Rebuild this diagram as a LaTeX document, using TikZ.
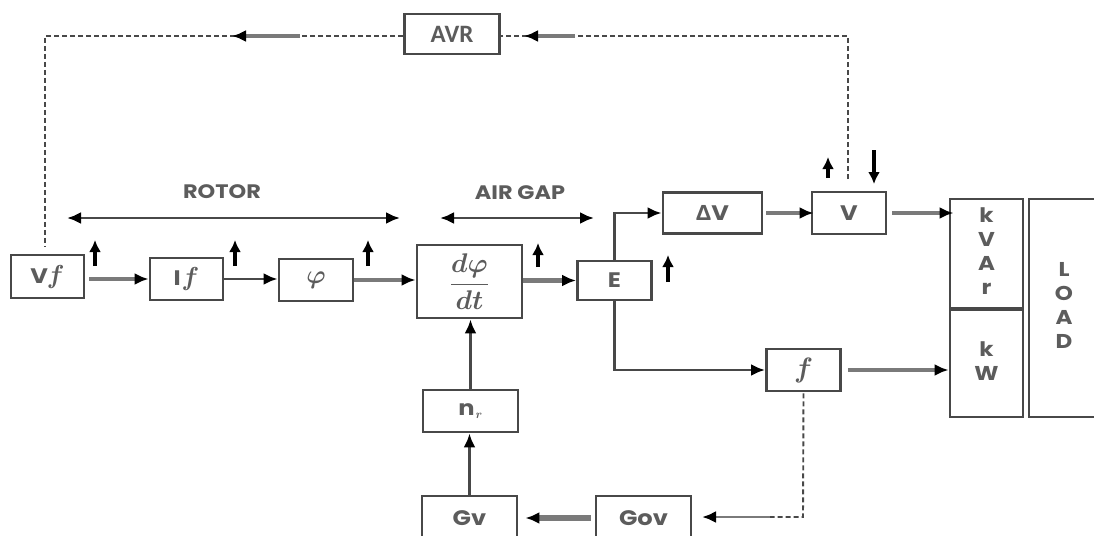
\RequirePackage{fix-cm}
\documentclass[tikz,border=0pt]{standalone}
\usepackage{amsmath}
\usepackage{fontspec}
\setmainfont{Poppins}
\newfontfamily\bx{Poppins}[FakeStretch=1.15]
\newfontfamily\grk{Open Sans}[FakeStretch=1.12]
\newfontfamily\avrfont{Carlito}
\usetikzlibrary{arrows.meta}
\definecolor{boxgray}{HTML}{484848}
\definecolor{txtgray}{HTML}{5C5C5C}
\definecolor{linegray}{HTML}{7A7A7A}
\tikzset{
  box/.style={draw=boxgray, line width=2.8pt, fill=white, inner sep=0pt, text=txtgray, font=\bx\fontsize{21}{25}\selectfont\bfseries},
  thickarr/.style={draw=linegray, line width=4.6pt, -{Latex[length=14pt,width=12pt,black]}},
  thinarr/.style={draw=boxgray, line width=2.8pt, -{Latex[length=14pt,width=12pt,black]}},
  dashline/.style={draw=boxgray, line width=1.9pt, dash pattern=on 5pt off 3pt},
  solidseg/.style={draw=linegray, line width=3.8pt, -{Latex[length=14pt,width=12pt,black]}},
  uparr/.style={draw=black, line width=3.2pt, -{Latex[length=12pt,width=12pt,black]}},
  lbl/.style={text=txtgray, font=\bx\fontsize{19.5}{23}\selectfont\bfseries},
  dblarr/.style={draw=boxgray, line width=2.8pt, {Latex[length=14pt,width=12pt,black]}-{Latex[length=14pt,width=12pt,black]}},
  stackbox/.style={box, font=\bx\fontsize{20}{24}\selectfont\bfseries},
}
\begin{document}
\begin{tikzpicture}[x=1pt,y=-1pt]
\useasboundingbox (0,0) rectangle (1094,535);
\clip (0,0) rectangle (1094,535);
% boxes
\node[box, minimum width=95, minimum height=40, font=\avrfont\fontsize{25}{28}\selectfont\bfseries] (avr) at (452,34) {AVR};
\node[box, minimum width=73, minimum height=43] (vf) at (47.5,276.5) {V\kern-1pt{\fontsize{26}{28}\selectfont$\boldsymbol{f}$}};
\node[box, minimum width=73, minimum height=42] (if) at (186.5,279) {I\kern1pt{\fontsize{26}{28}\selectfont$\boldsymbol{f}$}};
\node[box, minimum width=74, minimum height=42] (phi) at (316,280) {{\fontsize{26}{28}\selectfont$\boldsymbol{\varphi}$}};
\node[box, minimum width=105, minimum height=73, font=\fontsize{27}{30}\selectfont] (dphi) at (469.5,281.5) {$\displaystyle\frac{\boldsymbol{d\varphi}}{\boldsymbol{dt}}$};
\node[box, minimum width=74, minimum height=39] (e) at (614.5,280.5) {E};
\node[box, minimum width=99, minimum height=41] (dv) at (712.5,213) {{\grk\bfseries Δ}V};
\node[box, minimum width=74, minimum height=42] (v) at (849,213) {V};
\node[stackbox, minimum width=73, minimum height=109] (kvar) at (986.5,253.5) {\raisebox{-3pt}{\begin{tabular}{@{}c@{}}k\\V\\A\\r\end{tabular}}};
\node[stackbox, minimum width=73, minimum height=107] (kw) at (986.5,363.5) {\raisebox{-2pt}{\begin{tabular}{@{}c@{}}k\\W\end{tabular}}};
\node[stackbox, minimum width=70, minimum height=218] (load) at (1064,308) {\raisebox{13pt}{\begin{tabular}{@{}c@{}}L\\O\\A\\D\end{tabular}}};
\node[box, minimum width=74, minimum height=42] (f) at (803.5,370) {{\fontsize{28}{30}\selectfont$\boldsymbol{f}$}};
\node[box, minimum width=95, minimum height=42] (nr) at (470.5,411) {n\kern1pt{\fontsize{17}{18}\selectfont$_{\boldsymbol{r}}$}};
\node[box, minimum width=95, minimum height=44] (gv) at (469.5,518) {Gv};
\node[box, minimum width=95, minimum height=44] (gov) at (643.5,518) {Gov};
% labels
\node[lbl] (rotor) at (222,192) {ROTOR};
\node[lbl] (airgap) at (520,193) {AIR GAP};
\coordinate (r1) at (67,218); \coordinate (r2) at (400,218);
\coordinate (a1) at (440,218); \coordinate (a2) at (594,218);
\draw[dblarr] (r1) -- (r2);
\draw[dblarr] (a1) -- (a2);
% main chain
\draw[thickarr] ([xshift=4pt]vf.east |- if.west) -- (if.west);
\draw[thinarr] (if.east) -- (if.east -| phi.west);
\draw[thickarr] (phi.east) -- (phi.east -| dphi.west);
\draw[thickarr] (dphi.east |- e.west) -- (e.west);
\draw[thinarr] (e.north) |- (dv.west);
\draw[thickarr] ([xshift=3pt]dv.east) -- ([xshift=3pt]dv.east -| v.west);
\draw[thickarr] ([xshift=5pt]v.east) -- ([xshift=5pt]v.east -| kvar.west);
\draw[thinarr] (e.south) |- (f.west);
\draw[thickarr] ([xshift=6pt]f.east) -- (f.east -| kw.west);
\draw[thinarr] (nr.north) -- (nr.north |- dphi.south);
\draw[thinarr] (gv.north) -- (gv.north |- nr.south);
\draw[thickarr, line width=5.5pt] ([xshift=-4pt]gov.west) -- ([xshift=7pt]gov.west -| gv.east);
% small indicator arrows
\foreach \n/\x/\ya/\yb in {u1/95/266/240, u2/235/266/240, u3/368/266/240, u4/538/267/243, u5/668/282/255, u6/828/178/157}{
  \coordinate (\n a) at (\x,\ya); \coordinate (\n b) at (\x,\yb);
  \draw[uparr] (\n a) -- (\n b);
}
\coordinate (d1) at (874,150); \coordinate (d2) at (874,184);
\draw[uparr] (d1) -- (d2);
% AVR loop
\coordinate (vtop) at (848,179);
\coordinate (tr) at (848,36);
\coordinate (s1) at (575,36); \coordinate (s2) at (524,36);
\coordinate (tl) at (45,36);
\coordinate (vfl) at (45,246);
\coordinate (s3) at (300,36); \coordinate (s4) at (232,36);
\draw[dashline] (vtop) -- (tr) -- (tr -| avr.east);
\draw[dashline] (avr.west |- tl) -- (tl) -- (vfl);
\draw[solidseg] (s1) -- (s2);
\draw[solidseg] (s3) -- (s4);
% frequency loop
\coordinate (fb) at (803,517);
\coordinate (s5) at (770,517); \coordinate (s6) at (702,517);
\draw[dashline] ([yshift=-1pt]f.south) -- (fb) -- (s5);
\draw[solidseg, line width=2.8pt] (s5) -- (s6);
\end{tikzpicture}
\end{document}
